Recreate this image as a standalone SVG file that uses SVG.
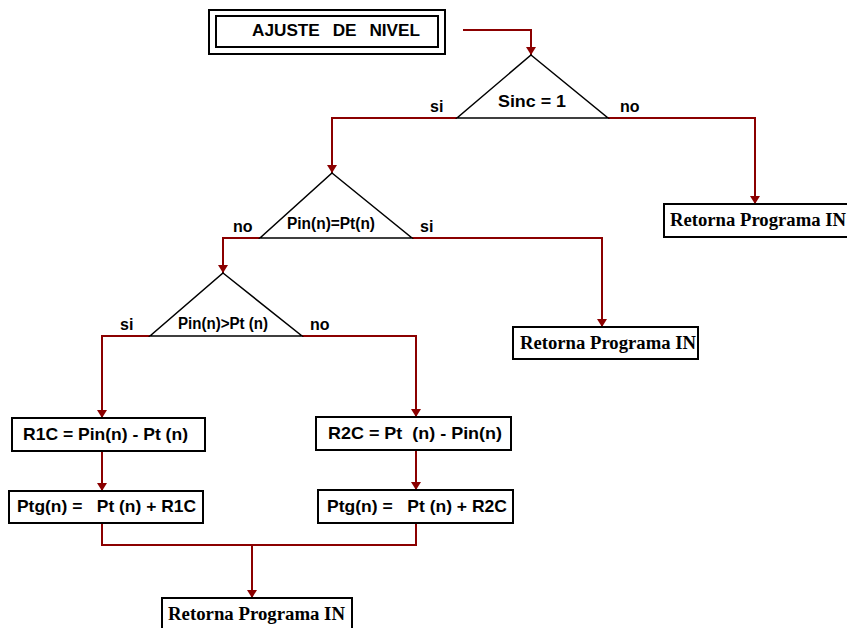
<svg xmlns="http://www.w3.org/2000/svg" width="847" height="628" viewBox="0 0 847 628">
<defs>
<marker id="ah" markerUnits="userSpaceOnUse" markerWidth="8" markerHeight="10" refX="8" refY="5" orient="auto" viewBox="0 0 8 10">
<path d="M0,0 L8,5 L0,10 Z" fill="#8b0000"/>
</marker>
<style>
.box{fill:#fff;stroke:#000;stroke-width:2}
.tri{fill:#fff;stroke:#000;stroke-width:1.5}
.c{fill:none;stroke:#8b0000;stroke-width:2}
.ca{fill:none;stroke:#8b0000;stroke-width:2;marker-end:url(#ah)}
.t{font-family:"Liberation Sans",Arial,sans-serif;font-weight:bold;fill:#000}
.r{font-family:"Liberation Serif","Times New Roman",serif;font-weight:bold;font-size:18px;fill:#000}
.lbl{font-family:"Liberation Sans",Arial,sans-serif;font-weight:bold;font-size:16px;fill:#000}
</style>
</defs>
<rect width="847" height="628" fill="#fff"/>
<g id="connectors">
<path class="ca" d="M463,30 H531 V55"/>
<path class="ca" d="M457,118 H332 V173"/>
<path class="ca" d="M608,118 H755 V204"/>
<path class="ca" d="M260,238 H223 V273"/>
<path class="ca" d="M412,238 H602 V327"/>
<path class="ca" d="M150,336 H102 V418"/>
<path class="ca" d="M302,336 H416 V417"/>
<path class="ca" d="M102,451 V491"/>
<path class="ca" d="M416,450 V490"/>
<path class="c" d="M102,523 V545 H416 V523"/>
<path class="ca" d="M252,545 V598"/>
</g>
<g id="title">
<rect x="209" y="10" width="236" height="44" fill="#fff" stroke="#000" stroke-width="2"/>
<rect x="216" y="16" width="222" height="31" fill="#fff" stroke="#000" stroke-width="2"/>
<text class="t" x="252" y="36" font-size="17" word-spacing="8" textLength="168" lengthAdjust="spacingAndGlyphs">AJUSTE DE NIVEL</text>
</g>
<g id="d1">
<path class="tri" d="M531,55 L608,118 L457,118 Z"/>
<text class="t" x="498" y="107" font-size="16" textLength="68" lengthAdjust="spacingAndGlyphs">Sinc = 1</text>
<text class="lbl" x="430" y="112">si</text>
<text class="lbl" x="620" y="112">no</text>
</g>
<g id="d2">
<path class="tri" d="M332,173 L412,238 L260,238 Z"/>
<text class="t" x="287" y="229" font-size="16" textLength="88" lengthAdjust="spacingAndGlyphs">Pin(n)=Pt(n)</text>
<text class="lbl" x="233" y="232">no</text>
<text class="lbl" x="420" y="232">si</text>
</g>
<g id="d3">
<path class="tri" d="M223,273 L302,336 L150,336 Z"/>
<text class="t" x="178" y="329" font-size="16" textLength="90" lengthAdjust="spacingAndGlyphs">Pin(n)&gt;Pt (n)</text>
<text class="lbl" x="120" y="330">si</text>
<text class="lbl" x="310" y="330">no</text>
</g>
<g id="ret1">
<rect class="box" x="664" y="204" width="190" height="33"/>
<text class="r" x="670" y="226" textLength="176" lengthAdjust="spacingAndGlyphs">Retorna Programa IN</text>
</g>
<g id="ret2">
<rect class="box" x="513" y="327" width="185" height="32"/>
<text class="r" x="520" y="349" textLength="176" lengthAdjust="spacingAndGlyphs">Retorna Programa IN</text>
</g>
<g id="r1c">
<rect class="box" x="12" y="418" width="193" height="33"/>
<text class="t" x="23" y="440" font-size="17" textLength="165" lengthAdjust="spacingAndGlyphs">R1C = Pin(n) - Pt (n)</text>
</g>
<g id="r2c">
<rect class="box" x="316" y="417" width="195" height="33"/>
<text class="t" x="328" y="439" font-size="17" textLength="174" lengthAdjust="spacingAndGlyphs" xml:space="preserve">R2C = Pt  (n) - Pin(n)</text>
</g>
<g id="ptg1">
<rect class="box" x="9" y="491" width="194" height="32"/>
<text class="t" x="17" y="512" font-size="17" textLength="179" lengthAdjust="spacingAndGlyphs" xml:space="preserve">Ptg(n) =   Pt (n) + R1C</text>
</g>
<g id="ptg2">
<rect class="box" x="318" y="490" width="195" height="33"/>
<text class="t" x="327" y="512" font-size="17" textLength="180" lengthAdjust="spacingAndGlyphs" xml:space="preserve">Ptg(n) =   Pt (n) + R2C</text>
</g>
<g id="ret3">
<rect class="box" x="162" y="598" width="190" height="32"/>
<text class="r" x="168" y="620" textLength="177" lengthAdjust="spacingAndGlyphs">Retorna Programa IN</text>
</g>
</svg>
